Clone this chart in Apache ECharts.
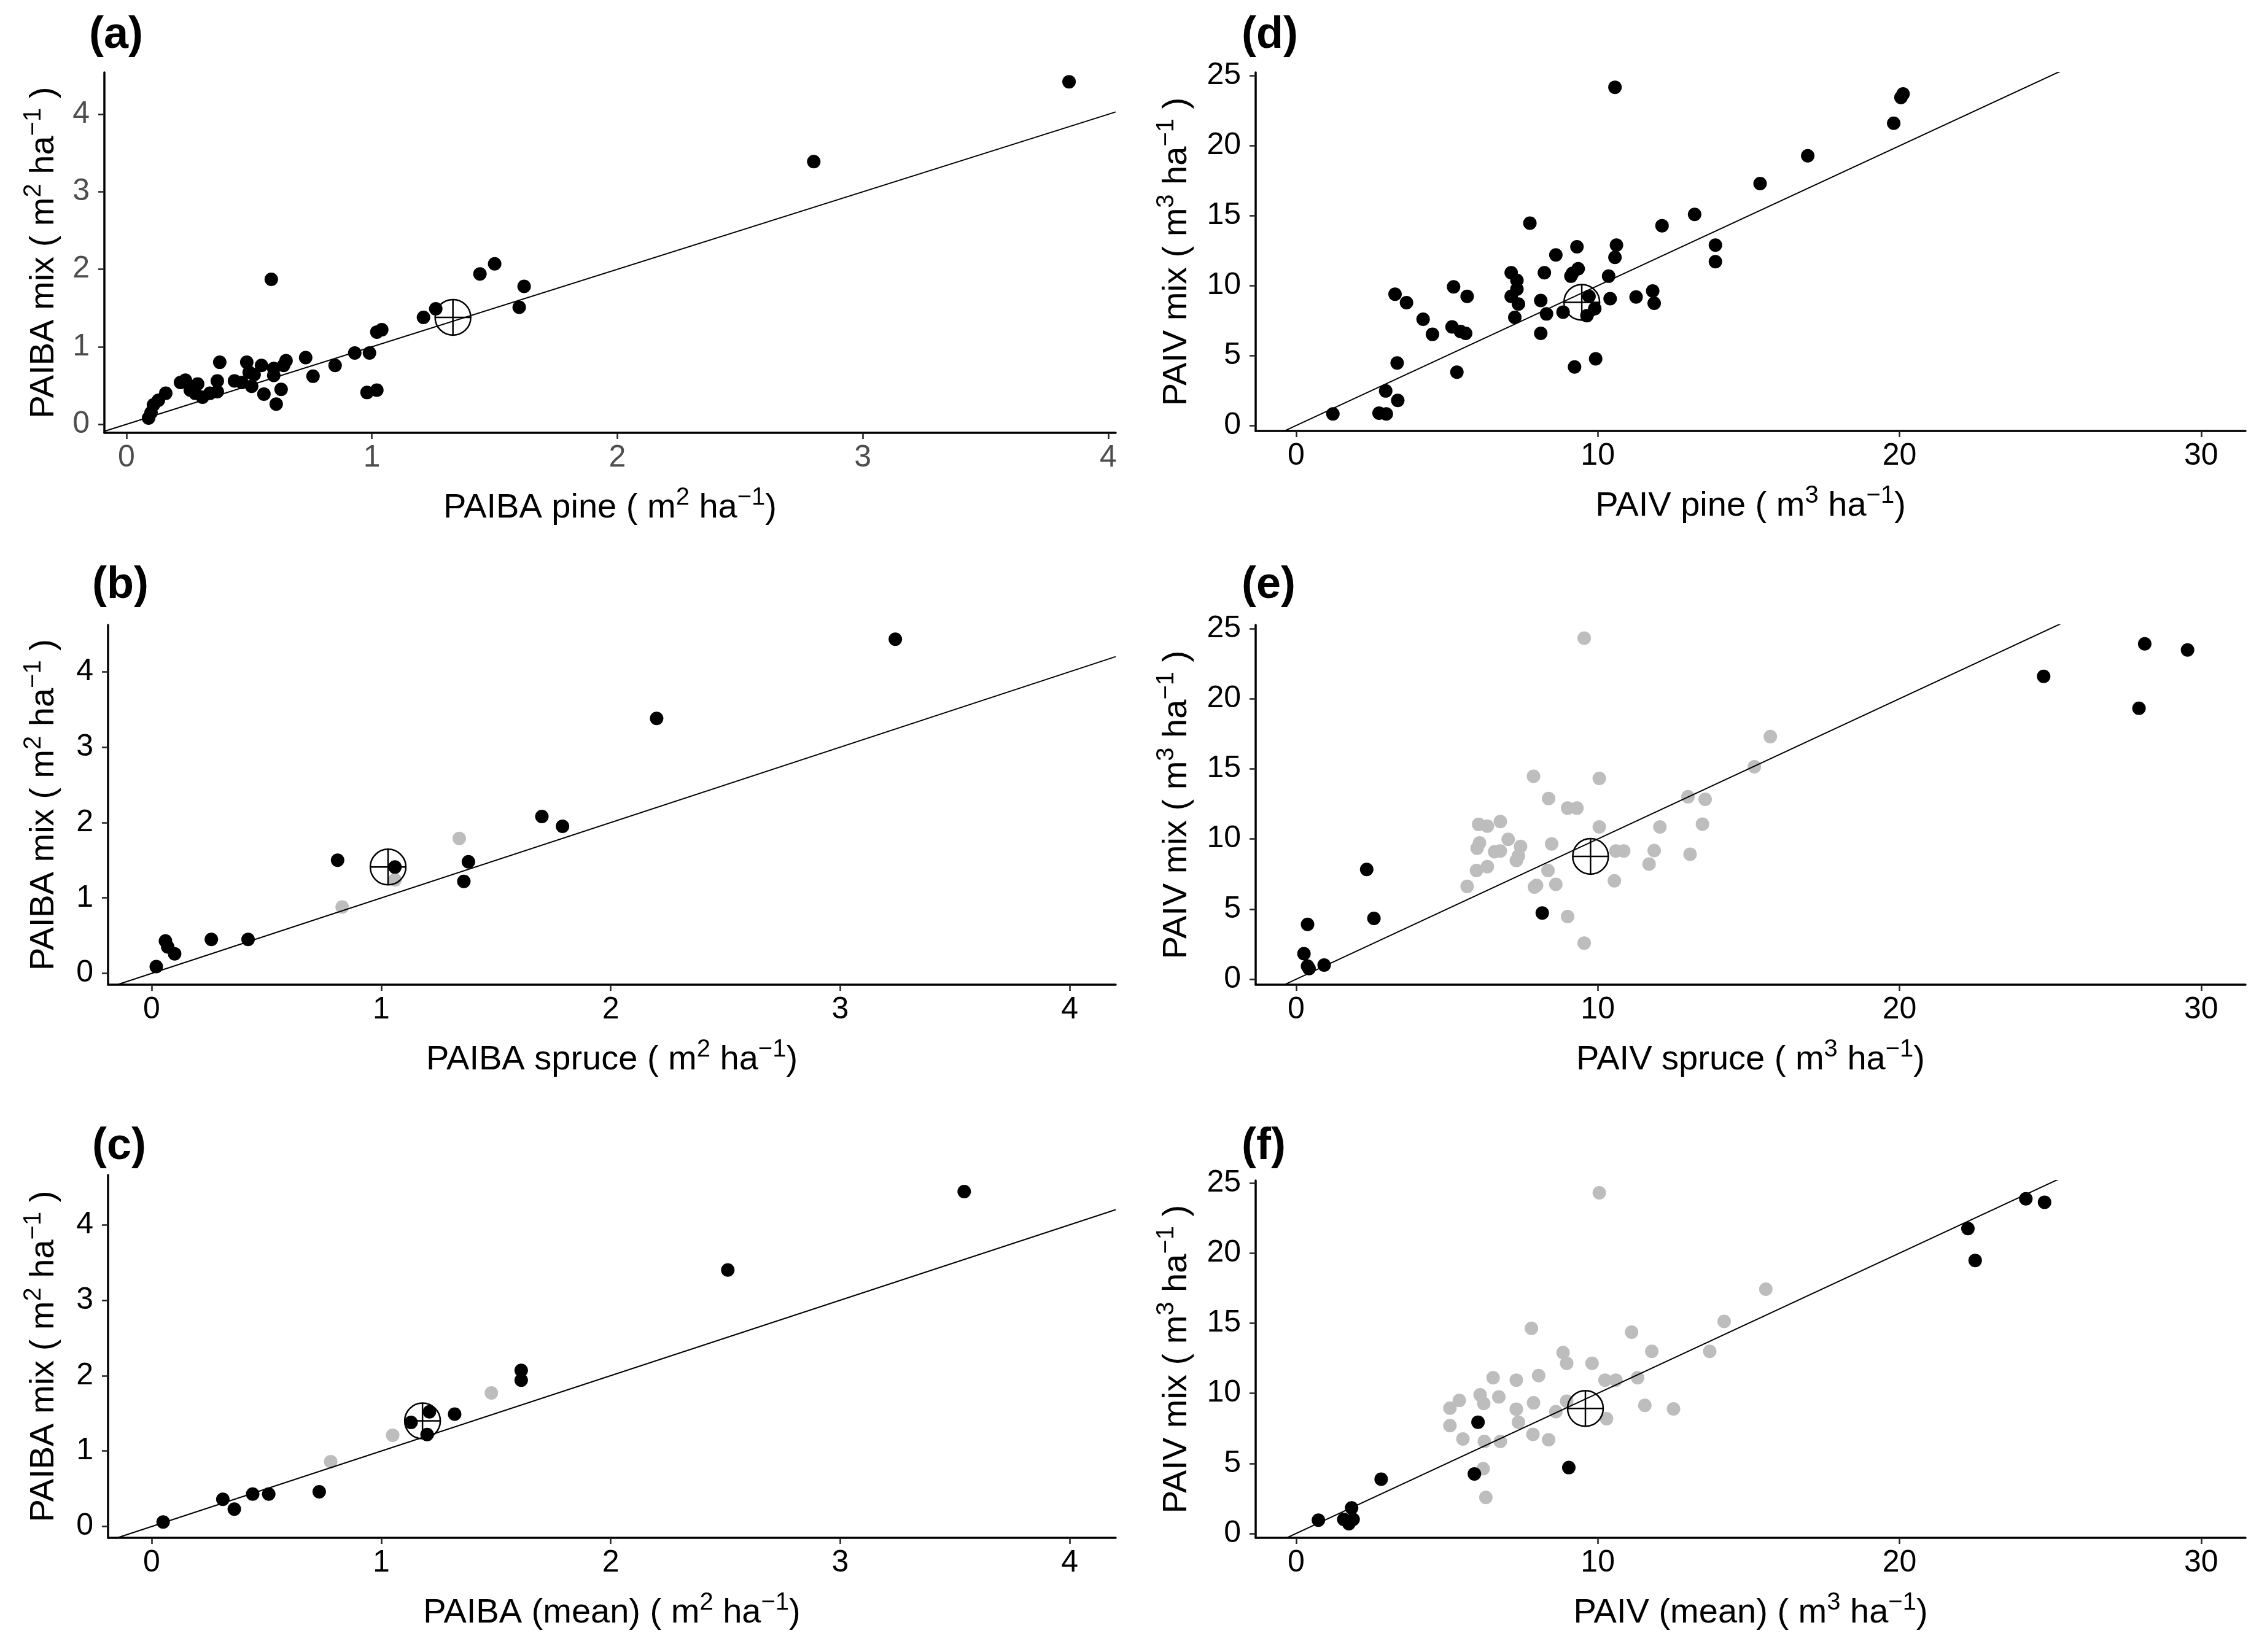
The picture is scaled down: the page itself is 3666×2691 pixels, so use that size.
<!DOCTYPE html>
<html>
<head>
<meta charset="utf-8">
<script src="https://cdn.jsdelivr.net/npm/echarts@6/dist/echarts.min.js"></script>
<style>
	html, body { margin: 0; padding: 0; background: #fff; }
	#main { width: 3666px; height: 2691px; }
</style>
</head>
<body>
<div id="main"></div>
<script>
// (a) PAIBA pine vs mix
var pineBA = [
	[3.84, 4.42], [2.80, 3.39], [0.59, 1.87], [1.50, 2.07], [1.44, 1.94], [1.62, 1.78],
	[1.60, 1.51], [1.26, 1.49], [1.21, 1.38], [1.04, 1.22], [1.02, 1.19], [0.99, 0.92],
	[0.93, 0.92], [0.85, 0.76], [0.73, 0.86], [0.76, 0.62], [0.65, 0.82], [0.64, 0.76],
	[0.60, 0.72], [0.55, 0.76], [0.49, 0.80], [0.52, 0.64], [0.50, 0.67], [0.60, 0.63],
	[0.63, 0.45], [0.61, 0.26], [0.56, 0.39], [0.51, 0.49], [0.47, 0.54], [0.44, 0.56],
	[0.98, 0.41], [1.02, 0.44], [0.38, 0.80], [0.37, 0.56], [0.37, 0.42], [0.34, 0.40],
	[0.29, 0.52], [0.28, 0.40], [0.31, 0.35], [0.24, 0.57], [0.22, 0.54], [0.26, 0.44],
	[0.16, 0.40], [0.13, 0.31], [0.11, 0.25], [0.09, 0.08], [0.10, 0.15]
];
var pineBAMean = [1.33, 1.38];

// (b) PAIBA spruce vs mix
var spruceBA = [
	[3.24, 4.43], [2.20, 3.38], [1.70, 2.08], [1.79, 1.95], [1.38, 1.48], [1.36, 1.22],
	[0.81, 1.50], [1.06, 1.41], [0.26, 0.45], [0.42, 0.45], [0.06, 0.43], [0.07, 0.35],
	[0.10, 0.26], [0.02, 0.09]
];
var spruceBAGrey = [[1.34, 1.79], [0.83, 0.88], [1.06, 1.24]];
var spruceBAMean = [1.03, 1.41];

// (c) PAIBA (mean) vs mix
var meanBA = [
	[3.54, 4.44], [2.51, 3.40], [1.61, 2.07], [1.61, 1.94], [1.32, 1.49], [1.21, 1.52],
	[1.13, 1.38], [1.20, 1.22], [0.73, 0.46], [0.51, 0.43], [0.44, 0.43], [0.31, 0.36],
	[0.36, 0.23], [0.05, 0.06]
];
var meanBAGrey = [[1.48, 1.77], [1.05, 1.21], [0.78, 0.86]];
var meanBAMean = [1.18, 1.40];

// (d) PAIV pine vs mix
var pineV = [
	[10.57, 24.19], [20.12, 23.71], [20.05, 23.46], [19.81, 21.62], [16.96, 19.29], [15.38, 17.30],
	[13.21, 15.10], [12.13, 14.29], [7.75, 14.47], [13.90, 12.90], [13.90, 11.72], [10.62, 12.90],
	[10.57, 12.02], [9.31, 12.78], [8.61, 12.20], [9.35, 11.21], [9.16, 10.88], [9.11, 10.68],
	[8.23, 10.93], [10.36, 10.68], [7.13, 10.93], [7.32, 10.38], [7.32, 9.75], [7.13, 9.24],
	[7.37, 8.69], [7.25, 7.73], [8.11, 8.94], [8.30, 7.98], [8.85, 8.11], [8.11, 6.59],
	[10.41, 9.07], [11.27, 9.19], [11.82, 9.62], [11.87, 8.74], [9.71, 9.24], [9.90, 8.36],
	[9.64, 7.85], [5.22, 9.92], [5.67, 9.24], [5.45, 6.72], [5.17, 7.05], [5.62, 6.59],
	[4.21, 7.60], [4.52, 6.52], [3.28, 9.39], [3.66, 8.79], [3.35, 4.47], [5.33, 3.81],
	[9.23, 4.19], [9.93, 4.77], [2.97, 2.47], [3.37, 1.79], [1.22, 0.83], [2.75, 0.88],
	[2.99, 0.83]
];
var pineVMean = [9.47, 8.81];

// (e) PAIV spruce vs mix
var spruceV = [
	[28.13, 23.91], [29.55, 23.48], [24.78, 21.59], [27.94, 19.32], [2.34, 7.83], [2.58, 4.34],
	[0.38, 3.91], [8.16, 4.72], [0.26, 1.82], [0.38, 0.93], [0.93, 1.01], [0.43, 0.76]
];
var spruceVGrey = [
	[9.55, 24.32], [15.72, 17.30], [15.19, 15.15], [7.87, 14.47], [10.05, 14.32], [8.37, 12.88],
	[12.99, 13.01], [13.56, 12.83], [9.00, 12.20], [9.31, 12.20], [6.05, 11.04], [6.34, 10.91],
	[6.77, 11.24], [10.05, 10.86], [12.06, 10.86], [13.47, 11.06], [7.03, 9.97], [6.08, 9.72],
	[6.00, 9.34], [6.58, 9.09], [6.77, 9.14], [7.44, 9.47], [7.37, 8.79], [7.30, 8.46],
	[8.47, 9.65], [5.98, 7.75], [6.34, 8.03], [5.67, 6.62], [8.35, 7.75], [7.97, 6.69],
	[7.90, 6.57], [8.61, 6.77], [10.55, 7.02], [10.60, 9.14], [10.86, 9.14], [11.87, 9.17],
	[11.70, 8.21], [13.06, 8.91], [9.00, 4.47], [9.55, 2.58]
];
var spruceVMean = [9.76, 8.76];

// (f) PAIV (mean) vs mix
var meanV = [
	[24.19, 23.88], [24.81, 23.63], [22.27, 21.75], [22.51, 19.48], [6.03, 7.94], [5.91, 4.25],
	[9.04, 4.70], [2.82, 3.87], [0.74, 0.95], [1.58, 1.00], [1.89, 1.00], [1.84, 1.82],
	[1.75, 0.70]
];
var meanVGrey = [
	[10.05, 24.30], [15.57, 17.43], [14.19, 15.13], [7.80, 14.64], [11.12, 14.36], [11.79, 12.99],
	[13.71, 12.99], [8.85, 12.91], [8.97, 12.14], [9.81, 12.14], [6.53, 11.11], [7.30, 10.94],
	[8.04, 11.26], [10.24, 10.94], [10.60, 10.94], [11.32, 11.11], [6.10, 9.89], [5.41, 9.49],
	[5.10, 8.94], [6.22, 9.27], [6.72, 9.74], [7.87, 9.32], [7.30, 8.87], [7.37, 7.94],
	[8.61, 8.69], [8.97, 9.44], [11.56, 9.14], [12.51, 8.89], [10.29, 8.19], [5.10, 7.69],
	[5.53, 6.74], [6.24, 6.57], [6.77, 6.57], [7.85, 7.07], [8.37, 6.69], [6.20, 4.62],
	[6.29, 2.57]
];
var meanVMean = [9.59, 8.92];

var baTicks = [0, 1, 2, 3, 4];
var vTicksX = [0, 10, 20, 30];
var vTicksY = [0, 5, 10, 15, 20, 25];

var FONT = '"Liberation Sans", Arial, sans-serif';

var panels = [
	{ tag: '(a)', black: pineBA, grey: [], mean: pineBAMean,
		box: [170, 118, 1647, 587], xr: [-0.09, 4.03], yr: [-0.11, 4.54], line: [-0.09, 4.03],
		xt: baTicks, yt: baTicks, xName: 'PAIBA pine ( m{s|2} ha{s|\u22121})', yName: 'PAIBA mix ( m{s|2} ha{s|\u22121} )',
		tickColor: '#4d4d4d', yGap: 61, tagPos: [145, 22] },
	{ tag: '(b)', black: spruceBA, grey: spruceBAGrey, mean: spruceBAMean,
		box: [176, 1018, 1641, 586], xr: [-0.19, 4.2], yr: [-0.15, 4.62], line: [-0.15, 4.2],
		xt: baTicks, yt: baTicks, xName: 'PAIBA spruce ( m{s|2} ha{s|\u22121})', yName: 'PAIBA mix ( m{s|2} ha{s|\u22121} )',
		tickColor: '#000', yGap: 67, tagPos: [150, 918] },
	{ tag: '(c)', black: meanBA, grey: meanBAGrey, mean: meanBAMean,
		box: [176, 1914, 1641, 591], xr: [-0.19, 4.2], yr: [-0.15, 4.66], line: [-0.15, 4.2],
		xt: baTicks, yt: baTicks, xName: 'PAIBA (mean) ( m{s|2} ha{s|\u22121})', yName: 'PAIBA mix ( m{s|2} ha{s|\u22121} )',
		tickColor: '#000', yGap: 67, tagPos: [150, 1832] },
	{ tag: '(d)', black: pineV, grey: [], mean: pineVMean,
		box: [2045, 118, 1612, 584], xr: [-1.34, 31.47], yr: [-0.39, 25.25], line: [-0.35, 25.5],
		xt: vTicksX, yt: vTicksY, xName: 'PAIV pine ( m{s|3} ha{s|\u22121})', yName: 'PAIV mix ( m{s|3} ha{s|\u22121} )',
		tickColor: '#000', yGap: 91, tagPos: [2022, 22] },
	{ tag: '(e)', black: spruceV, grey: spruceVGrey, mean: spruceVMean,
		box: [2045, 1018, 1612, 586], xr: [-1.34, 31.47], yr: [-0.39, 25.26], line: [-0.35, 25.5],
		xt: vTicksX, yt: vTicksY, xName: 'PAIV spruce ( m{s|3} ha{s|\u22121})', yName: 'PAIV mix ( m{s|3} ha{s|\u22121} )',
		tickColor: '#000', yGap: 91, tagPos: [2022, 918] },
	{ tag: '(f)', black: meanV, grey: meanVGrey, mean: meanVMean,
		box: [2045, 1923, 1612, 582], xr: [-1.34, 31.47], yr: [-0.31, 25.18], line: [-0.35, 25.5],
		xt: vTicksX, yt: vTicksY, xName: 'PAIV (mean) ( m{s|3} ha{s|\u22121})', yName: 'PAIV mix ( m{s|3} ha{s|\u22121} )',
		tickColor: '#000', yGap: 91, tagPos: [2022, 1832] }
];

function nameStyle() {
	return {
		fontSize: 56,
		fontFamily: FONT,
		color: '#000',
		rich: {
			s: { fontSize: 40, fontFamily: FONT, color: '#000', padding: [0, 0, 34, 0] }
		}
	};
}

function axisCommon(ticks, tickColor) {
	return {
		type: 'value',
		axisLine: { show: true, onZero: false, lineStyle: { color: '#000', width: 3.5 } },
		axisTick: { show: true, length: 10, customValues: ticks, lineStyle: { color: '#222', width: 2.5 } },
		axisLabel: { customValues: ticks, fontSize: 50, fontFamily: FONT, color: tickColor },
		splitLine: { show: false },
		nameLocation: 'middle',
		nameMoveOverlap: false,
		nameTextStyle: nameStyle()
	};
}

// mean marker: open circle with a cross
function meanMarker(params, api) {
	var c = api.coord([api.value(0), api.value(1)]);
	var r = 29;
	var st = { stroke: '#000', lineWidth: 2.5, fill: 'none' };
	return {
		type: 'group',
		children: [
			{ type: 'circle', shape: { cx: c[0], cy: c[1], r: r }, style: st },
			{ type: 'line', shape: { x1: c[0] - r, y1: c[1], x2: c[0] + r, y2: c[1] }, style: st },
			{ type: 'line', shape: { x1: c[0], y1: c[1] - r, x2: c[0], y2: c[1] + r }, style: st }
		]
	};
}

var grids = [], xAxes = [], yAxes = [], series = [], tags = [];

for (var i = 0; i < panels.length; i++) {
	var p = panels[i];

	grids.push({ left: p.box[0], top: p.box[1], width: p.box[2], height: p.box[3], outerBoundsMode: 'none', containLabel: false });

	var xa = axisCommon(p.xt, p.tickColor);
	xa.gridIndex = i;
	xa.min = p.xr[0];
	xa.max = p.xr[1];
	xa.axisLabel.margin = 16;
	xa.name = p.xName;
	xa.nameGap = 86;
	xAxes.push(xa);

	var ya = axisCommon(p.yt, p.tickColor);
	ya.gridIndex = i;
	ya.min = p.yr[0];
	ya.max = p.yr[1];
	ya.axisLabel.margin = 24;
	ya.name = p.yName;
	ya.nameRotate = 90;
	ya.nameGap = p.yGap;
	yAxes.push(ya);

	// 1:1 line
	series.push({
		type: 'line', xAxisIndex: i, yAxisIndex: i,
		data: [[p.line[0], p.line[0]], [p.line[1], p.line[1]]],
		symbol: 'none', silent: true,
		lineStyle: { color: '#000', width: 2 }
	});

	series.push({
		type: 'scatter', xAxisIndex: i, yAxisIndex: i,
		data: p.grey, symbolSize: 22,
		itemStyle: { color: '#bdbdbd', opacity: 1 }
	});

	series.push({
		type: 'scatter', xAxisIndex: i, yAxisIndex: i,
		data: p.black, symbolSize: 22,
		itemStyle: { color: '#000', opacity: 1 }
	});

	series.push({
		type: 'custom', xAxisIndex: i, yAxisIndex: i,
		data: [p.mean], renderItem: meanMarker, z: 5
	});

	tags.push({
		type: 'text', left: p.tagPos[0], top: p.tagPos[1],
		style: { text: p.tag, fontSize: 72, fontWeight: 'bold', fontFamily: FONT, fill: '#000' }
	});
}

var myChart = echarts.init(document.getElementById('main'));
myChart.setOption({
	animation: false,
	backgroundColor: '#fff',
	grid: grids,
	xAxis: xAxes,
	yAxis: yAxes,
	series: series,
	graphic: tags
});
</script>
</body>
</html>
